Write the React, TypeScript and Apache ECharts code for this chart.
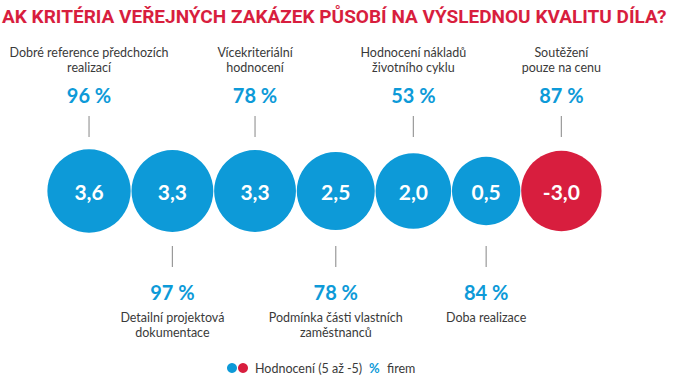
import React, { useEffect, useRef } from "react";
import * as echarts from "echarts";

const titleText = "AK KRITÉRIA VEŘEJNÝCH ZAKÁZEK PŮSOBÍ NA VÝSLEDNOU KVALITU DÍLA?";
const categories = [
  "Dobré reference předchozích\nrealizací",
  "Detailní projektová\ndokumentace",
  "Vícekriteriální\nhodnocení",
  "Podmínka části vlastních\nzaměstnanců",
  "Hodnocení nákladů\nživotního cyklu",
  "Doba realizace",
  "Soutěžení\npouze na cenu",
];
const scores = [3.6, 3.3, 3.3, 2.5, 2.0, 0.5, -3.0];
const percents = [96, 97, 78, 78, 53, 84, 87];
const legendLabel = "Hodnocení (5 až -5)";
const legendPct = "%";
const legendFirms = "firem";

const BLUE = "#0d9ad8";
const RED = "#d81e3e";
const TEXT = "#3a3a3a";
const FONT = "Lato, 'Open Sans', sans-serif";

export default function App() {
  const ref = useRef<HTMLDivElement>(null);
  useEffect(() => {
    document.body.style.margin = "0";
    if (!ref.current) return;
    const chart = echarts.init(ref.current, undefined, { renderer: "svg" });

    const radius = (v: number) => 33 + 2.4 * Math.abs(v);
    const gap = 0.8;
    const xs: number[] = [];
    let cursor = 47.4;
    scores.forEach((v, i) => {
      const r = radius(v);
      if (i > 0) cursor += gap;
      xs.push(cursor + r);
      cursor += 2 * r;
    });

    // measure title to fit width
    const cnv = document.createElement("canvas");
    const ctx = cnv.getContext("2d")!;
    const titleFontSize = 19;
    ctx.font = `bold ${titleFontSize}px Roboto`;
    const tw = ctx.measureText(titleText).width;
    const titleScale = 665 / tw;

    const option: any = {
      animation: false,
      grid: { left: 0, right: 0, top: 0, bottom: 0 },
      xAxis: { type: "value", min: 0, max: 674, show: false },
      yAxis: { type: "value", min: -189, max: 191, show: false },
      graphic: [
        {
          type: "text",
          x: 2,
          y: 17,
          scaleX: titleScale,
          style: {
            text: titleText,
            fill: RED,
            fontFamily: "Roboto",
            fontWeight: "bold",
            fontSize: titleFontSize,
            verticalAlign: "middle",
          },
        },
        { type: "circle", shape: { cx: 232, cy: 368, r: 5 }, style: { fill: BLUE } },
        { type: "circle", shape: { cx: 243, cy: 368, r: 5 }, style: { fill: RED } },
        {
          type: "text",
          x: 255,
          y: 368,
          style: { text: legendLabel, fill: TEXT, fontFamily: FONT, fontSize: 12.5, verticalAlign: "middle" },
        },
        {
          type: "text",
          x: 369,
          y: 368,
          style: { text: legendPct, fill: BLUE, fontFamily: FONT, fontWeight: "bold", fontSize: 13, verticalAlign: "middle" },
        },
        {
          type: "text",
          x: 387,
          y: 368,
          style: { text: legendFirms, fill: TEXT, fontFamily: FONT, fontSize: 12.5, verticalAlign: "middle" },
        },
      ],
      series: [
        {
          type: "scatter",
          symbol: "circle",
          data: scores.map((v, i) => ({
            value: [xs[i], 0],
            symbolSize: 2 * radius(v),
            itemStyle: { color: v < 0 ? RED : BLUE, opacity: 1 },
          })),
          label: {
            show: true,
            position: "inside",
            color: "#fff",
            fontFamily: FONT,
            fontWeight: "bold",
            fontSize: 21,
            formatter: (p: any) => scores[p.dataIndex].toFixed(1).replace(".", ","),
          },
          emphasis: { disabled: true },
          z: 2,
        },
        {
          type: "custom",
          data: scores.map((v, i) => [xs[i], 0]),
          renderItem: (params: any, api: any) => {
            const i = params.dataIndex;
            const [cx, cy] = api.coord([api.value(0), api.value(1)]);
            const up = i % 2 === 0;
            const lineY1 = up ? cy - 75 : cy + 55;
            const lineY2 = up ? cy - 54 : cy + 76;
            const pctY = up ? cy - 96 : cy + 101;
            const nameY = up ? cy - 116 : cy + 119;
            return {
              type: "group",
              children: [
                {
                  type: "line",
                  shape: { x1: cx, y1: lineY1, x2: cx, y2: lineY2 },
                  style: { stroke: "#9a9a9a", lineWidth: 1.2 },
                },
                {
                  type: "text",
                  style: {
                    text: percents[i] + " %",
                    x: cx,
                    y: pctY,
                    align: "center",
                    verticalAlign: "middle",
                    fill: BLUE,
                    fontFamily: FONT,
                    fontWeight: "bold",
                    fontSize: 20,
                  },
                },
                {
                  type: "text",
                  style: {
                    text: categories[i],
                    x: cx,
                    y: nameY,
                    align: "center",
                    verticalAlign: up ? "bottom" : "top",
                    lineHeight: 15,
                    fill: TEXT,
                    fontFamily: FONT,
                    fontSize: 12.5,
                  },
                },
              ],
            };
          },
          z: 1,
        },
      ],
    };
    chart.setOption(option);
    return () => chart.dispose();
  }, []);
  return <div ref={ref} style={{ width: 674, height: 380 }} />;
}
